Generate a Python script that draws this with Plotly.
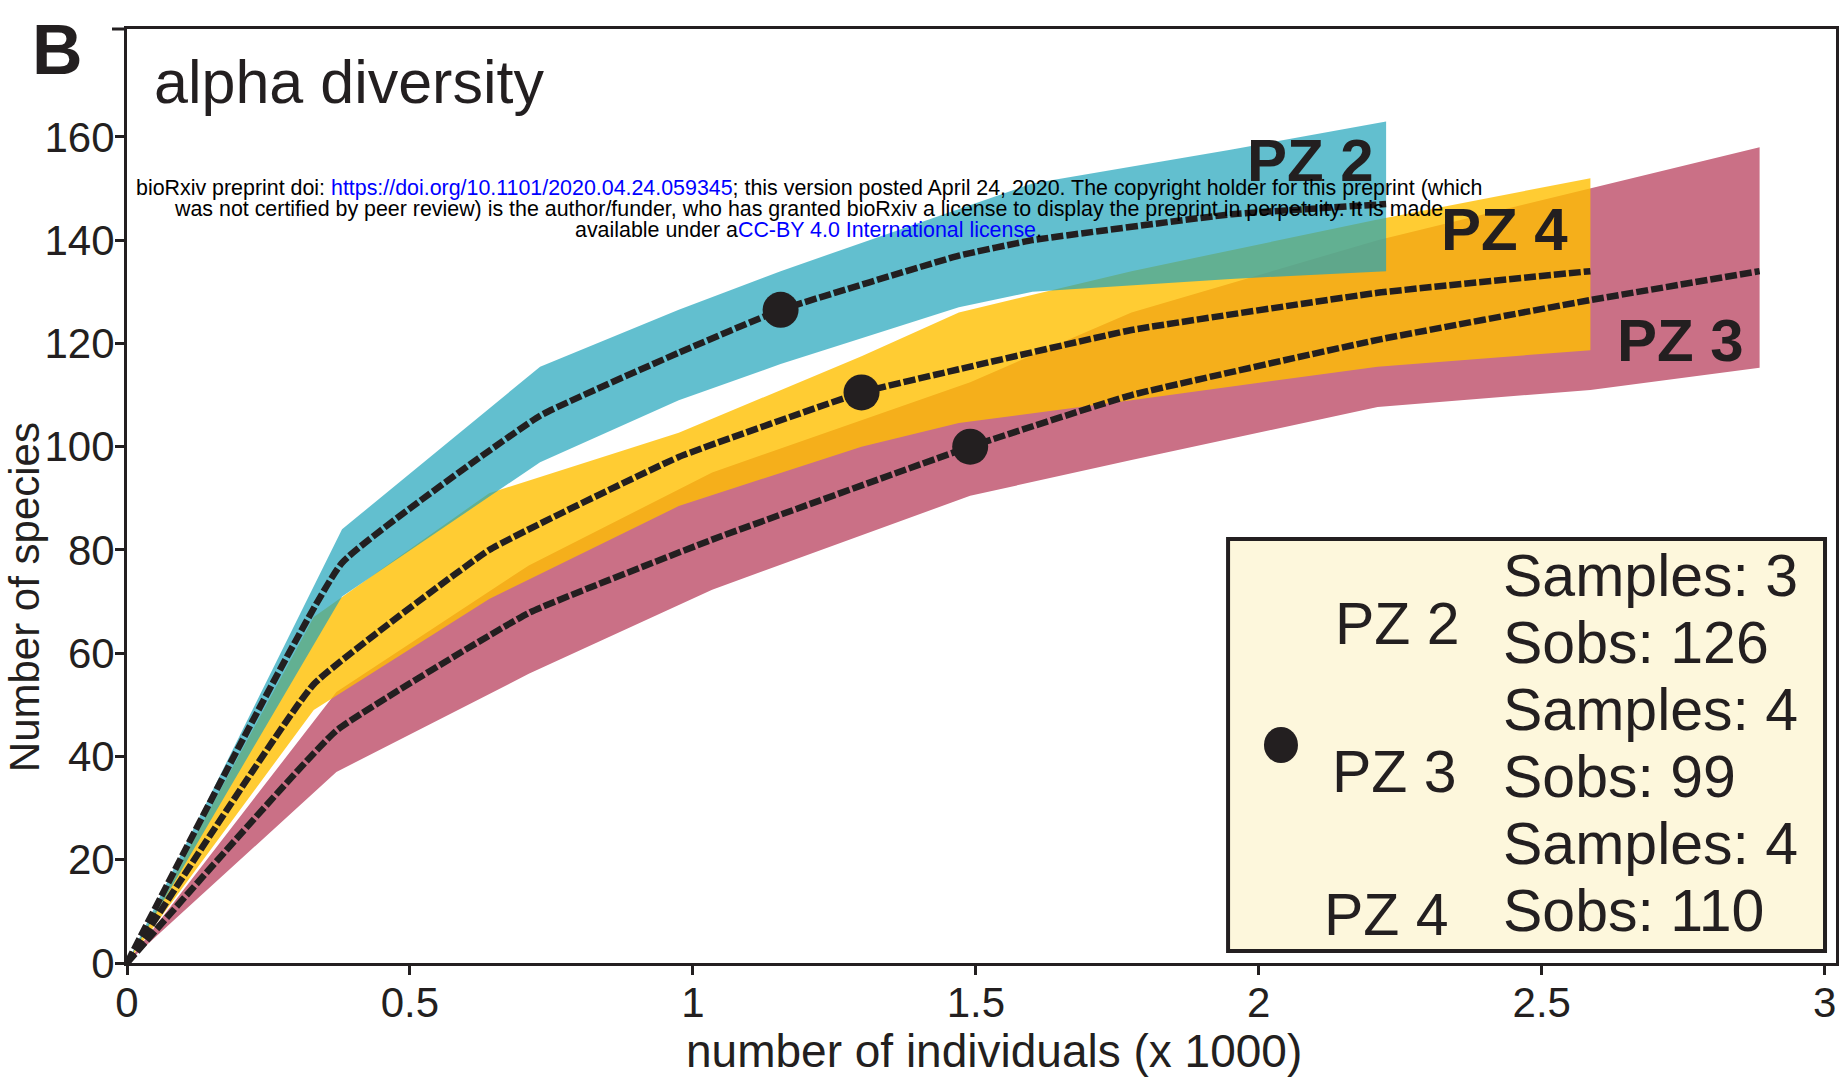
import plotly.graph_objects as go

# ---------------- data ----------------
x_pz2 = [0, 0.38, 0.73, 0.975, 1.155, 1.47, 1.6, 1.95, 2.225]
mean_pz2 = [0, 77.5, 106, 118.2, 126.5, 137, 140, 145, 147]
upper_pz2 = [0, 84, 115.5, 126.5, 134, 146, 151, 157.5, 163]
lower_pz2 = [0, 71, 97, 109, 116, 127, 130, 132.5, 134]

x_pz4 = [0, 0.33, 0.64, 0.975, 1.298, 1.47, 1.775, 2.21, 2.586]
mean_pz4 = [0, 54, 80, 98, 110.5, 115, 122.6, 129.8, 134]
upper_pz4 = [0, 67, 91, 102.7, 117.5, 126, 134, 144, 152]
lower_pz4 = [0, 49, 70.5, 88.5, 100, 104.6, 109, 115.5, 118.7]

x_pz3 = [0, 0.37, 0.71, 1.034, 1.49, 1.775, 2.21, 2.586, 2.885]
mean_pz3 = [0, 45, 67.8, 82, 100, 110, 120.7, 128.4, 134]
upper_pz3 = [0, 52.5, 77, 95, 112.5, 126, 140, 150, 158]
lower_pz3 = [0, 37, 56, 72.3, 90.5, 97.4, 107.7, 111, 115.3]

obs_x = [1.155, 1.298, 1.49]      # PZ2, PZ4, PZ3 observed points
obs_y = [126.5, 110.5, 100]

x_ticks = [0, 0.5, 1, 1.5, 2, 2.5, 3]
x_ticktext = ["0", "0.5", "1", "1.5", "2", "2.5", "3"]
y_ticks = [0, 20, 40, 60, 80, 100, 120, 140, 160]

legend_names = ["PZ 2", "PZ 3", "PZ 4"]
legend_info = ["Samples: 3", "Sobs: 126", "Samples: 4", "Sobs: 99", "Samples: 4", "Sobs: 110"]

# ---------------- styling ----------------
INK = "#231F20"
FONT = "Liberation Sans, Arial, sans-serif"
W, H = 1846, 1078
L, R, T, B = 127, 7, 29, 115
PW, PH = W - L - R, H - T - B


def px(xp):
    return (xp - L) / PW


def py(yp):
    return (H - B - yp) / PH


fig = go.Figure()


def band(x, up, lo, color):
    fig.add_trace(go.Scatter(
        x=list(x) + list(x)[::-1], y=list(up) + list(lo)[::-1],
        fill="toself", fillcolor=color, mode="lines", line=dict(width=0),
        hoverinfo="skip"))


band(x_pz3, upper_pz3, lower_pz3, "rgb(202,112,134)")
band(x_pz4, upper_pz4, lower_pz4, "rgba(255,191,0,0.8)")
band(x_pz2, upper_pz2, lower_pz2, "rgba(31,164,186,0.7)")

for x, m in [(x_pz3, mean_pz3), (x_pz4, mean_pz4), (x_pz2, mean_pz2)]:
    fig.add_trace(go.Scatter(x=x, y=m, mode="lines",
                             line=dict(color=INK, width=6.5, dash="12px,3px",
                                       shape="spline", smoothing=0.3)))

fig.add_trace(go.Scatter(x=obs_x, y=obs_y, mode="markers",
                         marker=dict(size=36, color=INK)))

ann = []
ann.append(dict(text="<b>B</b>", x=px(57), y=py(50), xanchor="center", yanchor="middle",
                font=dict(size=70, color=INK)))
ann.append(dict(text="alpha diversity", x=px(152), y=py(82), xanchor="left", yanchor="middle",
                font=dict(size=61, color=INK)))

# curve labels
ann.append(dict(text="<b>PZ 2</b>", x=px(1313), y=py(161), xanchor="center", yanchor="middle",
                font=dict(size=60, color=INK)))
ann.append(dict(text="<b>PZ 4</b>", x=px(1507), y=py(230), xanchor="center", yanchor="middle",
                font=dict(size=60, color=INK)))
ann.append(dict(text="<b>PZ 3</b>", x=px(1683), y=py(341), xanchor="center", yanchor="middle",
                font=dict(size=60, color=INK)))

# legend box text
for name, xr, yc in zip(legend_names, [1464, 1461, 1453], [624, 772, 915]):
    ann.append(dict(text=name, x=px(xr), y=py(yc), xanchor="right", yanchor="middle",
                    font=dict(size=59, color=INK)))
for txt, yc in zip(legend_info, [576, 643, 710, 777, 844, 911]):
    ann.append(dict(text=txt, x=px(1503), y=py(yc), xanchor="left", yanchor="middle",
                    font=dict(size=59, color=INK)))

# axis titles
ann.append(dict(text="number of individuals (x 1000)", x=px(996), y=py(1051),
                xanchor="center", yanchor="middle", font=dict(size=46, color=INK)))
ann.append(dict(text="Number of species", x=px(25), y=py(597), textangle=-90,
                xanchor="center", yanchor="middle", font=dict(size=42, color=INK)))

# bioRxiv watermark
BL = "#0000FF"
wm = [
    "bioRxiv preprint doi: <span style='color:%s'>https://doi.org/10.1101/2020.04.24.059345</span>; "
    "this version posted April 24, 2020. The copyright holder for this preprint (which" % BL,
    "was not certified by peer review) is the author/funder, who has granted bioRxiv a license "
    "to display the preprint in perpetuity. It is made",
    "available under a<span style='color:%s'>CC-BY 4.0 International license</span>." % BL,
]
for line, yc in zip(wm, [188, 209, 230]):
    ann.append(dict(text=line, x=px(810), y=py(yc), xanchor="center", yanchor="middle",
                    font=dict(size=21.4, color="black", family="Liberation Sans, Arial")))

for a in ann:
    a.update(xref="paper", yref="paper", showarrow=False)

shapes = [
    dict(type="line", xref="paper", yref="paper", x0=px(112), x1=px(127), y0=py(29), y1=py(29),
         line=dict(color=INK, width=3)),
    dict(type="rect", xref="paper", yref="paper", x0=px(1230), x1=px(1828), y0=py(951), y1=py(539),
         fillcolor="#FDF7DC", line=dict(color=INK, width=4), layer="above"),
    dict(type="circle", xref="paper", yref="paper", xsizemode="pixel", ysizemode="pixel",
         xanchor=px(1283), yanchor=py(745), x0=-17, x1=17, y0=-18, y1=18,
         fillcolor=INK, line=dict(width=0), layer="above"),
]

fig.update_layout(
    width=W, height=H, margin=dict(l=L, r=R, t=T, b=B, pad=0),
    plot_bgcolor="white", paper_bgcolor="white", showlegend=False,
    font=dict(family=FONT, color=INK),
    annotations=ann, shapes=shapes,
    xaxis=dict(range=[0, 3.02], tickvals=x_ticks, ticktext=x_ticktext, showline=True,
               linewidth=3, linecolor=INK, mirror=True, ticks="outside", ticklen=9,
               tickwidth=3, tickcolor=INK, showgrid=False, zeroline=False,
               ticklabelstandoff=-8,
               tickfont=dict(size=42, color=INK)),
    yaxis=dict(range=[0, 180.9], tickvals=y_ticks, showline=True, linewidth=3,
               linecolor=INK, mirror=True, ticks="outside", ticklen=9, tickwidth=3,
               tickcolor=INK, showgrid=False, zeroline=False,
               ticklabelstandoff=-8,
               tickfont=dict(size=42, color=INK)),
)

fig.write_html("out.html")
